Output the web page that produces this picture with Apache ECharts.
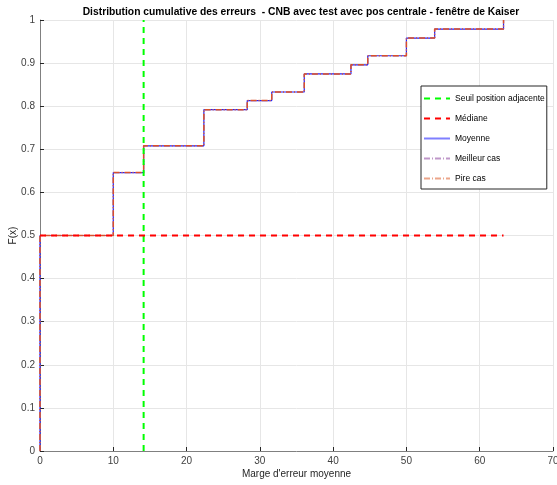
<!DOCTYPE html>
<html>
<head>
<meta charset="utf-8">
<script src="https://cdn.jsdelivr.net/npm/echarts@6/dist/echarts.min.js"></script>
<style>
  html, body { margin: 0; padding: 0; background: #fff; }
  #chart { width: 557px; height: 485px; }
</style>
</head>
<body>
<div id="chart"></div>
<script>
// erreurs (x) et F(x) de la distribution cumulative
const errX = [0, 0, 10, 14.14, 22.36, 28.28, 31.62, 36.06, 42.43, 44.72, 50, 53.85, 63.25];
const cdfY = [0, 0.5, 0.646, 0.708, 0.792, 0.813, 0.833, 0.875, 0.896, 0.917, 0.958, 0.979, 1];
const seuilX = [14.14, 14.14];
const seuilY = [0, 1];
const medianeX = [0, 63.25];
const medianeY = [0.5, 0.5];
const legendNames = ['Seuil position adjacente', 'Médiane', 'Moyenne', 'Meilleur cas', 'Pire cas'];
const legendColors = ['#00ff00', '#ff0000', '#7f7fff', '#bf97c9', '#eca58a'];

const pairs = (xs, ys) => xs.map((x, i) => [x, ys[i]]);
const font = 'Liberation Sans, Arial, Helvetica, sans-serif';

const chart = echarts.init(document.getElementById('chart'));

chart.setOption({
    animation: false,
    title: {
        text: 'Distribution cumulative des erreurs  - CNB avec test avec pos centrale - fenêtre de Kaiser',
        left: 296,
        top: 2,
        textAlign: 'center',
        textStyle: { fontFamily: font, fontSize: 10.3, fontWeight: 'bold', color: '#000' }
    },
    grid: { left: 40, right: 4, top: 20, bottom: 34, outerBoundsMode: 'none', containLabel: false },
    legend: {
        data: legendNames.map((n, i) => ({ name: n, lineStyle: { color: legendColors[i] } })),
        orient: 'vertical',
        left: 421,
        top: 86,
        padding: [8, 2, 6, 2],
        itemGap: 11,
        itemWidth: 26,
        itemHeight: 9,
        itemStyle: { opacity: 0 },
        borderColor: '#262626',
        borderWidth: 1,
        backgroundColor: '#fff',
        textStyle: { fontFamily: font, fontSize: 8.5, color: '#000' }
    },
    xAxis: {
        type: 'value',
        min: 0, max: 70, interval: 10,
        name: "Marge d'erreur moyenne",
        nameLocation: 'middle',
        nameGap: 18,
        nameMoveOverlap: false,
        nameTextStyle: { fontFamily: font, fontSize: 10, color: '#262626' },
        axisLine: { onZero: false, lineStyle: { color: '#808080' } },
        axisTick: { inside: true, length: 4, lineStyle: { color: '#262626' } },
        axisLabel: { fontFamily: font, fontSize: 10, color: '#404040', margin: 5 },
        splitLine: { lineStyle: { color: '#e6e6e6' } }
    },
    yAxis: {
        type: 'value',
        min: 0, max: 1, interval: 0.1,
        name: 'F(x)',
        nameLocation: 'middle',
        nameGap: 22,
        nameMoveOverlap: false,
        nameTextStyle: { fontFamily: font, fontSize: 10, color: '#262626' },
        axisLine: { show: true, onZero: false, lineStyle: { color: '#808080' } },
        axisTick: { show: true, inside: true, length: 4, lineStyle: { color: '#262626' } },
        axisLabel: { fontFamily: font, fontSize: 10, color: '#404040', margin: 5 },
        splitLine: { lineStyle: { color: '#e6e6e6' } }
    },
    series: [
        {
            name: 'Moyenne', type: 'line', step: 'end', symbol: 'none', z: 2,
            data: pairs(errX, cdfY),
            lineStyle: { color: '#2020ff', width: 1.2 },
            itemStyle: { color: '#7f7fff' }
        },
        {
            name: 'Meilleur cas', type: 'line', step: 'end', symbol: 'none', z: 3,
            data: pairs(errX, cdfY),
            lineStyle: { color: '#b08cc0', width: 1, type: [6, 2, 1, 2] },
            itemStyle: { color: '#b08cc0' }
        },
        {
            name: 'Pire cas', type: 'line', step: 'end', symbol: 'none', z: 4,
            data: pairs(errX, cdfY),
            lineStyle: { color: '#d9502a', width: 1.5, type: [6, 2, 1, 2] },
            itemStyle: { color: '#eb9a7a' }
        },
        {
            name: 'Seuil position adjacente', type: 'line', symbol: 'none', z: 5,
            data: pairs(seuilX, seuilY),
            lineStyle: { color: '#00ff00', width: 2, type: [6, 5] },
            itemStyle: { color: '#00ff00' }
        },
        {
            name: 'Médiane', type: 'line', symbol: 'none', z: 5,
            data: pairs(medianeX, medianeY),
            lineStyle: { color: '#ff0000', width: 2, type: [6, 5] },
            itemStyle: { color: '#ff0000' }
        }
    ]
});
</script>
</body>
</html>
